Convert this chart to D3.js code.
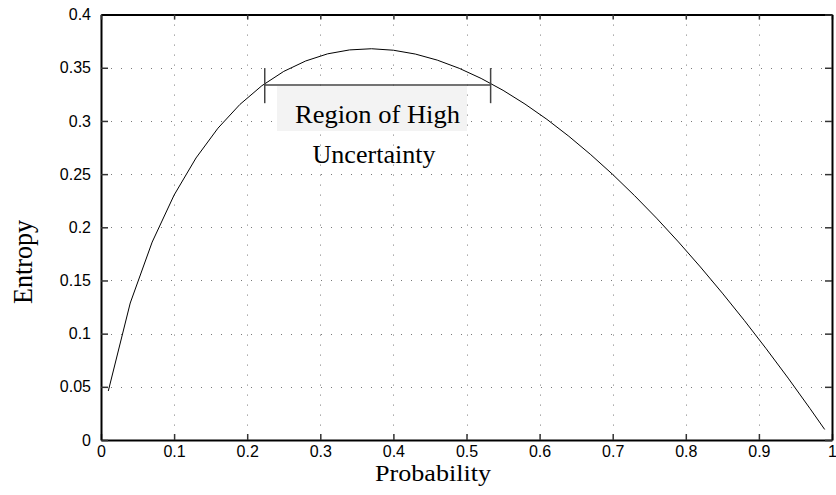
<!DOCTYPE html>
<html>
<head>
<meta charset="utf-8">
<script src="https://cdn.jsdelivr.net/npm/d3@7"></script>
<style>
  html, body { margin: 0; padding: 0; background: #fff; }
  svg { display: block; }
</style>
</head>
<body>
<svg id="chart" width="836" height="495"></svg>
<script>
// Entropy contribution -p·ln(p) sampled across the probability range
const probability = [0.01, 0.04, 0.07, 0.10, 0.13, 0.16, 0.19, 0.22, 0.25, 0.28,
                     0.31, 0.34, 0.37, 0.40, 0.43, 0.46, 0.49, 0.52, 0.55, 0.58,
                     0.61, 0.64, 0.67, 0.70, 0.73, 0.76, 0.79, 0.82, 0.85, 0.88,
                     0.91, 0.94, 0.97, 0.99];
const entropy = [0.0461, 0.1288, 0.1861, 0.2303, 0.2652, 0.2932, 0.3155, 0.3331, 0.3466, 0.3564,
                 0.3631, 0.3668, 0.3679, 0.3665, 0.3629, 0.3572, 0.3495, 0.3400, 0.3288, 0.3159,
                 0.3015, 0.2856, 0.2683, 0.2497, 0.2297, 0.2086, 0.1862, 0.1627, 0.1381, 0.1125,
                 0.0858, 0.0582, 0.0295, 0.0099];

const xTicks = [0, 0.1, 0.2, 0.3, 0.4, 0.5, 0.6, 0.7, 0.8, 0.9, 1];
const yTicks = [0, 0.05, 0.1, 0.15, 0.2, 0.25, 0.3, 0.35, 0.4];

// Bracket marking the high-uncertainty band
const regionStart = 0.224;
const regionEnd = 0.533;
const regionLevel = 0.3337;
const regionLabel = ["Region of High", "Uncertainty"];

(function draw() {
  const svg = d3.select("#chart");
  const W = 836, H = 495;
  const margin = { left: 101, right: 4, top: 14.6, bottom: 55 };

  const x = d3.scaleLinear().domain([0, 1]).range([margin.left, W - margin.right]);
  const y = d3.scaleLinear().domain([0, 0.4]).range([H - margin.bottom, margin.top]);

  const fmt = d => d === 0 ? "0" : String(d);

  // Dotted grid
  const grid = svg.append("g").attr("stroke", "#7a7a7a").attr("stroke-width", 1)
    .attr("stroke-dasharray", "1,9").attr("fill", "none");
  grid.selectAll("line.v").data(xTicks.slice(1, -1)).join("line").attr("class", "v")
    .attr("x1", d => Math.round(x(d)) + 0.5).attr("x2", d => Math.round(x(d)) + 0.5)
    .attr("y1", y(0.4)).attr("y2", y(0));
  grid.selectAll("line.h").data(yTicks.slice(1, -1)).join("line").attr("class", "h")
    .attr("y1", d => Math.round(y(d)) + 0.5).attr("y2", d => Math.round(y(d)) + 0.5)
    .attr("x1", x(0)).attr("x2", x(1));

  // Axes with inward ticks on all four sides
  const tickFont = "'Liberation Sans', Arial, sans-serif";
  const axBottom = svg.append("g").attr("transform", `translate(0,${y(0)})`)
    .call(d3.axisBottom(x).tickValues(xTicks).tickFormat(fmt).tickSizeInner(-6).tickSizeOuter(0).tickPadding(6));
  const axLeft = svg.append("g").attr("transform", `translate(${x(0)},0)`)
    .call(d3.axisLeft(y).tickValues(yTicks).tickFormat(fmt).tickSizeInner(-7).tickSizeOuter(0).tickPadding(10));
  const axTop = svg.append("g").attr("transform", `translate(0,${y(0.4)})`)
    .call(d3.axisTop(x).tickValues(xTicks).tickFormat("").tickSizeInner(-5).tickSizeOuter(0));
  const axRight = svg.append("g").attr("transform", `translate(${x(1)},0)`)
    .call(d3.axisRight(y).tickValues(yTicks).tickFormat("").tickSizeInner(-7).tickSizeOuter(0));

  [axBottom, axLeft, axTop, axRight].forEach(g => {
    g.select(".domain").attr("stroke", "#000").attr("stroke-width", 2);
    g.selectAll(".tick line").attr("stroke", "#333").attr("stroke-width", 1.5);
    g.selectAll(".tick text").attr("fill", "#000")
      .style("font-family", tickFont).style("font-size", "16px");
  });

  // Entropy curve
  const line = d3.line().x((d, i) => x(probability[i])).y(d => y(d));
  svg.append("path").datum(entropy)
    .attr("d", line).attr("fill", "none").attr("stroke", "#000").attr("stroke-width", 1);

  // Label background panel
  svg.append("rect")
    .attr("x", x(0.2408)).attr("y", y(0.3328))
    .attr("width", x(0.5007) - x(0.2408)).attr("height", y(0.2905) - y(0.3328))
    .attr("fill", "#f3f3f3");

  // Bracket
  const br = svg.append("g").attr("stroke", "#444").attr("stroke-width", 1.5).attr("fill", "none");
  br.append("line").attr("x1", x(regionStart)).attr("x2", x(regionEnd))
    .attr("y1", y(regionLevel)).attr("y2", y(regionLevel));
  [regionStart, regionEnd].forEach(p => {
    br.append("line").attr("x1", x(p)).attr("x2", x(p))
      .attr("y1", y(regionLevel + 0.016)).attr("y2", y(regionLevel - 0.017));
  });

  // Annotation text
  const serif = "'Liberation Serif', 'Times New Roman', serif";
  svg.append("text").text(regionLabel[0])
    .attr("x", 377.5).attr("y", 123.3).attr("text-anchor", "middle")
    .attr("textLength", 165).attr("lengthAdjust", "spacingAndGlyphs")
    .style("font-family", serif).style("font-size", "25px").attr("fill", "#000");
  svg.append("text").text(regionLabel[1])
    .attr("x", 374).attr("y", 163.3).attr("text-anchor", "middle")
    .attr("textLength", 123).attr("lengthAdjust", "spacingAndGlyphs")
    .style("font-family", serif).style("font-size", "25px").attr("fill", "#000");

  // Axis titles
  svg.append("text").text("Probability")
    .attr("x", 433).attr("y", 481).attr("text-anchor", "middle")
    .attr("textLength", 116).attr("lengthAdjust", "spacingAndGlyphs")
    .style("font-family", serif).style("font-size", "24px").attr("fill", "#000");
  svg.append("text").text("Entropy")
    .attr("transform", "translate(32,262) rotate(-90)").attr("text-anchor", "middle")
    .attr("textLength", 84).attr("lengthAdjust", "spacingAndGlyphs")
    .style("font-family", serif).style("font-size", "27px").attr("fill", "#000");
})();
</script>
</body>
</html>
